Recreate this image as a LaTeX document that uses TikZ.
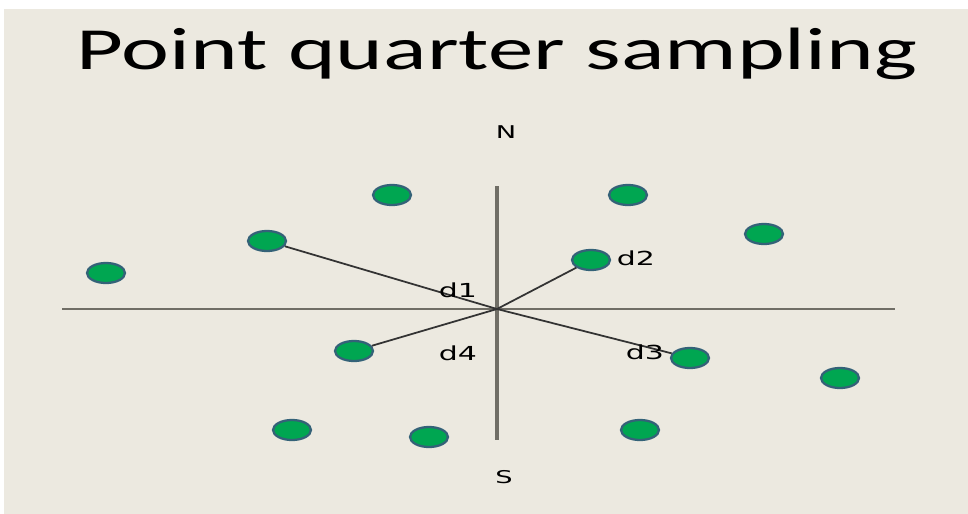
\documentclass[tikz,border=0pt]{standalone}
\usepackage{fontspec}
\setmainfont{Carlito}
\newfontfamily\labelfont{DejaVu Sans}
\definecolor{slidebg}{RGB}{236,233,224}
\definecolor{plantgreen}{RGB}{0,166,81}
\definecolor{plantedge}{RGB}{52,98,120}
\definecolor{axisgray}{RGB}{112,110,102}
\newlength{\pxu}
\setlength{\pxu}{0.02cm}
\usetikzlibrary{shapes.geometric}
\tikzset{
  plant/.style={
    ellipse,
    fill=plantgreen,
    draw=plantedge,
    line width=1.3pt,
    minimum width=38\pxu,
    minimum height=20\pxu,
    inner sep=0pt
  },
  axis/.style={draw=axisgray, line width=1.3pt},
  thick axis/.style={draw=axisgray, line width=1.9pt},
  dist/.style={draw=black!80, line width=1pt},
  lbl/.style={font=\labelfont\fontsize{11}{11}\selectfont, inner sep=0pt, xscale=1.55}
}
\begin{document}
\begin{tikzpicture}[x=0.02cm, y=-0.02cm]
  \useasboundingbox (0,0) rectangle (968,514);
  \fill[white] (0,0) rectangle (968,514);
  \fill[slidebg] (4,9) rectangle (968,514);
  % title
  \node[font=\fontsize{34}{34}\selectfont, anchor=base, xscale=1.52] (title) at (497,69) {Point quarter sampling};
  % compass
  \node[lbl, font=\labelfont\fontsize{10}{10}\selectfont] (north) at (506,132) {N};
  \node[lbl, font=\labelfont\fontsize{10}{10}\selectfont] (south) at (504,477) {S};
  \coordinate (centre) at (497,309);
  \coordinate (west) at (62,309);
  \coordinate (east) at (895,309);
  \coordinate (top) at (497,186);
  \coordinate (bottom) at (497,440);
  \draw[axis] (west) -- (east);
  \draw[thick axis] (top) -- (bottom);
  % plants
  \foreach \name/\x/\y in {p1/392/195, p2/628/195, q1/267/241, p3/764/234,
      p4/106/273, q2/591/260, q4/354/351, q3/690/358, p5/840/378,
      p6/292/430, p7/429/437, p8/640/430} {
    \node[plant] (\name) at (\x,\y) {};
  }
  % nearest in each quarter
  \draw[dist] (centre) -- (q1);
  \draw[dist] (centre) -- (q2);
  \draw[dist] (centre) -- (q3);
  \draw[dist] (centre) -- (q4);
  \node[lbl] (d1) at (458,290) {d1};
  \node[lbl] (d2) at (636,258) {d2};
  \node[lbl] (d3) at (645,352) {d3};
  \node[lbl] (d4) at (458,353) {d4};
\end{tikzpicture}
\end{document}
